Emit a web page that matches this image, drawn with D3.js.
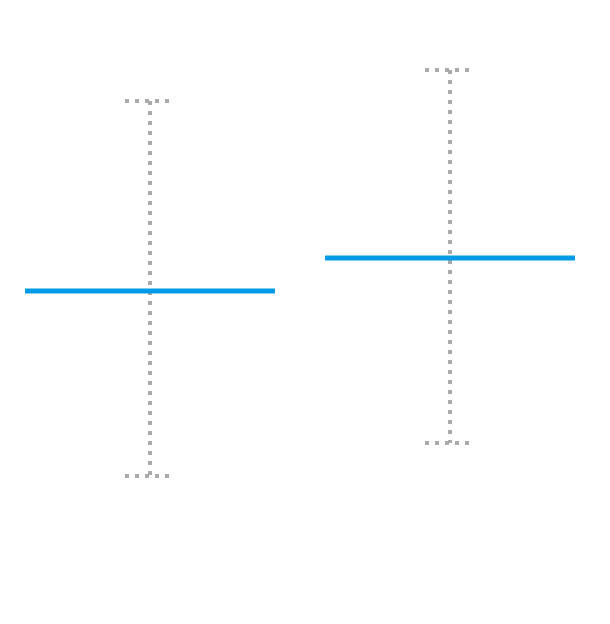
<!DOCTYPE html>
<html>
<head>
<meta charset="utf-8">
<script src="https://cdn.jsdelivr.net/npm/d3@7"></script>
<style>
  html, body { margin: 0; padding: 0; background: #fff; }
</style>
</head>
<body>
<svg id="chart" width="610" height="624"></svg>
<script>
const categories = ["A", "B"];
const means = [55.5, 61.0];
const lower = [24.67, 30.17];
const upper = [87.17, 92.38];

const svg = d3.select("#chart");
const x = d3.scaleBand().domain(categories).range([0, 600])
  .paddingInner(1 / 6).paddingOuter(1 / 12);
const y = d3.scaleLinear().domain([0, 104]).range([624, 0]);

const data = categories.map((c, i) => ({ c, m: means[i], lo: lower[i], hi: upper[i] }));
const capHalf = 25;
const grey = "#aaaaaa";
const dash = "4,6";

const g = svg.append("g");

// error bars
g.selectAll(".err").data(data).join("line")
  .attr("x1", d => x(d.c) + x.bandwidth() / 2)
  .attr("x2", d => x(d.c) + x.bandwidth() / 2)
  .attr("y1", d => y(d.hi))
  .attr("y2", d => y(d.lo))
  .attr("stroke", grey).attr("stroke-width", 4).attr("stroke-dasharray", dash)
  .attr("shape-rendering", "crispEdges");

g.selectAll(".capTop").data(data).join("line")
  .attr("x1", d => x(d.c) + x.bandwidth() / 2 - capHalf)
  .attr("x2", d => x(d.c) + x.bandwidth() / 2 + capHalf)
  .attr("y1", d => y(d.hi)).attr("y2", d => y(d.hi))
  .attr("stroke", grey).attr("stroke-width", 4).attr("stroke-dasharray", dash)
  .attr("shape-rendering", "crispEdges");

g.selectAll(".capBot").data(data).join("line")
  .attr("x1", d => x(d.c) + x.bandwidth() / 2 - capHalf)
  .attr("x2", d => x(d.c) + x.bandwidth() / 2 + capHalf)
  .attr("y1", d => y(d.lo)).attr("y2", d => y(d.lo))
  .attr("stroke", grey).attr("stroke-width", 4).attr("stroke-dasharray", dash)
  .attr("shape-rendering", "crispEdges");

// mean lines
g.selectAll(".mean").data(data).join("line")
  .attr("x1", d => x(d.c))
  .attr("x2", d => x(d.c) + x.bandwidth())
  .attr("y1", d => y(d.m)).attr("y2", d => y(d.m))
  .attr("stroke", "#039be5").attr("stroke-width", 5);
</script>
</body>
</html>
